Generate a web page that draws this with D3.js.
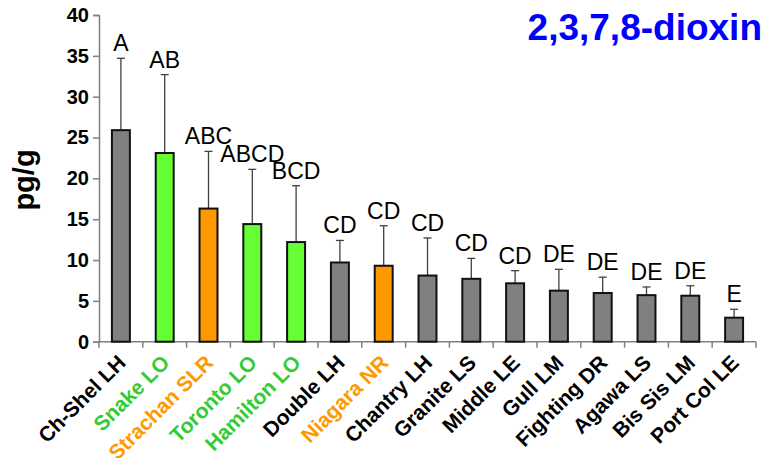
<!DOCTYPE html>
<html><head><meta charset="utf-8">
<script src="https://cdn.jsdelivr.net/npm/d3@7"></script>
<style>body{margin:0;background:#fff}svg{display:block}text{font-family:"Liberation Sans",Arial,sans-serif}</style>
</head><body><svg id="c" width="768" height="458"></svg>
<script>
const categories = ["Ch-Shel LH","Snake LO","Strachan SLR","Toronto LO","Hamilton LO","Double LH","Niagara NR","Chantry LH","Granite LS","Middle LE","Gull LM","Fighting DR","Agawa LS","Bis Sis LM","Port Col LE"];
const means = [25.9,23.1,16.3,14.4,12.2,9.7,9.3,8.1,7.7,7.15,6.25,5.96,5.7,5.63,2.94];
const errTops = [34.7,32.7,23.3,21.1,19.1,12.4,14.2,12.7,10.2,8.7,8.86,7.9,6.7,6.85,3.97];
const groups = ["A","AB","ABC","ABCD","BCD","CD","CD","CD","CD","CD","DE","DE","DE","DE","E"];
const regions = ["gray","green","orange","green","green","gray","orange","gray","gray","gray","gray","gray","gray","gray","gray"];
const yTicks = [0,5,10,15,20,25,30,35,40];
const title = "2,3,7,8-dioxin";
const yTitle = "pg/g";

const fill = {gray:"#808080", green:"#66ff33", orange:"#ff9900"};
const labelColor = {gray:"#000000", green:"#33cc33", orange:"#ff9900"};

const svg = d3.select("#c");
const x = d3.scaleBand().domain(categories).range([99, 756]).paddingInner(0.59).paddingOuter(0.295);
const y = d3.scaleLinear().domain([0, 40]).range([341.7, 15]);

// y axis
const ya = svg.append("g").attr("transform","translate(99,0)")
  .call(d3.axisLeft(y).tickValues(yTicks).tickSize(6).tickPadding(4));
ya.select(".domain").attr("stroke","#808080").attr("stroke-width",1.5);
ya.selectAll(".tick line").attr("stroke","#808080").attr("stroke-width",1.5);
ya.selectAll(".tick text").attr("font-size",20).attr("font-weight","bold").attr("fill","#000")
  .style("font-family","'Liberation Sans',Arial,sans-serif");

// x axis line and ticks at boundaries
const step = x.step();
const xa = svg.append("g");
xa.append("line").attr("x1",99).attr("x2",756).attr("y1",y(0)).attr("y2",y(0)).attr("stroke","#808080").attr("stroke-width",1.5);
xa.selectAll("line.t").data(d3.range(categories.length+1)).enter().append("line")
  .attr("x1",i=>99+i*step).attr("x2",i=>99+i*step).attr("y1",y(0)).attr("y2",y(0)+6)
  .attr("stroke","#808080").attr("stroke-width",1.5);

// error bars
const cap = 8;
const eb = svg.append("g");
categories.forEach((c,i)=>{
  const cx = x(c)+x.bandwidth()/2;
  eb.append("line").attr("x1",cx).attr("x2",cx).attr("y1",y(means[i])).attr("y2",y(errTops[i])).attr("stroke","#404040").attr("stroke-width",1.3);
  eb.append("line").attr("x1",cx-cap/2).attr("x2",cx+cap/2).attr("y1",y(errTops[i])).attr("y2",y(errTops[i])).attr("stroke","#404040").attr("stroke-width",1.3);
});

// bars
svg.append("g").selectAll("rect").data(categories).enter().append("rect")
  .attr("x",d=>x(d)).attr("width",x.bandwidth())
  .attr("y",(d,i)=>y(means[i])).attr("height",(d,i)=>y(0)-y(means[i]))
  .attr("fill",(d,i)=>fill[regions[i]]).attr("stroke","#111").attr("stroke-width",2);

// group letters
svg.append("g").selectAll("text").data(categories).enter().append("text")
  .attr("x",d=>x(d)+x.bandwidth()/2).attr("y",(d,i)=>y(errTops[i])-7)
  .attr("text-anchor","middle").attr("font-size",23).attr("fill","#000")
  .text((d,i)=>groups[i]);

// x labels
svg.append("g").selectAll("text").data(categories).enter().append("text")
  .attr("transform",d=>`translate(${x(d)+x.bandwidth()/2+6},364) rotate(-45)`)
  .attr("text-anchor","end").attr("font-size",21).attr("font-weight","bold")
  .attr("fill",(d,i)=>labelColor[regions[i]]).text(d=>d);

// y title
svg.append("text").attr("transform","translate(34,180) rotate(-90)")
  .attr("text-anchor","middle").attr("font-size",29).attr("font-weight","bold").text(yTitle);

// title
svg.append("text").attr("x",762).attr("y",40).attr("text-anchor","end")
  .attr("font-size",37).attr("font-weight","bold").attr("fill","#0000ff").text(title);
</script></body></html>
